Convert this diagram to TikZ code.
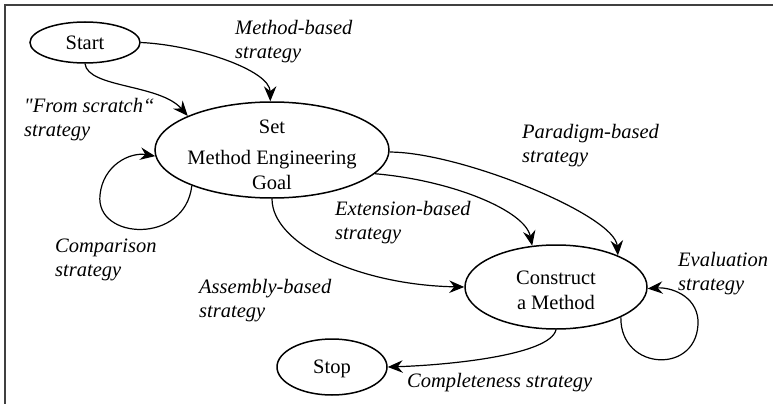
\documentclass[tikz,border=0pt]{standalone}
\usepackage{fontspec}
\setmainfont{Liberation Serif}
\newfontfamily\rawserif[Ligatures=TeXOff]{Liberation Serif}
\usetikzlibrary{shapes.geometric,arrows.meta}

\tikzset{
  state/.style={draw, ellipse, line width=1.5pt, inner sep=-30pt, align=center,
    font=\fontsize{20.5}{25}\selectfont},
  % base anchor of a two-line label sits on its last line
  lbl/.style={anchor=base west, align=left, inner sep=0pt,
    font=\itshape\fontsize{20.5}{24}\selectfont},
  conn/.style={line width=1.2pt, -{Stealth[length=15pt,width=12.5pt,inset=5pt]}},
  frameline/.style={line width=1.5pt, draw=black!75}
}

\begin{document}
\begin{tikzpicture}[x=1pt,y=-1pt]
\useasboundingbox (0,0) rectangle (773,404);
\draw[frameline] (773,5) -- (5,5) -- (5,404);

% process states
\node[state, minimum width=110pt, minimum height=41pt] (start) at (85,42.5) {Start};
\node[state, minimum width=234pt, minimum height=96pt] (set) at (272,150)
  {\rule{0pt}{24pt}Set\\[6pt]Method Engineering\\Goal};
\node[state, minimum width=182pt, minimum height=84pt] (construct) at (556,287)
  {\rule{0pt}{20pt}Construct\\a Method};
\node[state, minimum width=110pt, minimum height=56pt, text depth=0pt] (stop) at (332,367) {Stop};

% strategies
\draw[conn] (start.south) .. controls (88,88) and (160,84) .. (set.158);
\draw[conn] (start.east) .. controls (195,45) and (270,70) .. (set.92);
\draw[conn] (set.204) .. controls (185,245) and (95,240) .. (100,195)
  .. controls (103,165) and (130,152) .. (set.183);
\draw[conn] (set.-90) .. controls (272,245) and (360,285) .. (construct.west);
\draw[conn] (set.-13) .. controls (450,180) and (525,210) .. (construct.120);
\draw[conn] (set.-1) .. controls (460,152) and (615,215) .. (construct.27);
\draw[conn] (construct.-25) .. controls (620,372) and (700,375) .. (698,320)
  .. controls (696,295) and (670,287) .. (construct.-1);
\draw[conn] (construct.-90) .. controls (550,355) and (450,365) .. (stop.east);

% strategy labels
\node[lbl] (lmethod) at (235,59) {Method-based\\strategy};
\node[lbl] (lscratch) at (24,136) {{\rawserif"}From scratch“\\strategy};
\node[lbl] (lcomp) at (55,276) {Comparison\\strategy};
\node[lbl] (lassembly) at (199,317) {Assembly-based\\strategy};
\node[lbl] (lext) at (335,239) {Extension-based\\strategy};
\node[lbl] (lpara) at (522,162) {Paradigm-based\\strategy};
\node[lbl] (leval) at (678,290) {Evaluation\\strategy};
\node[lbl] (lcomplete) at (407,387) {Completeness strategy};
\end{tikzpicture}
\end{document}
